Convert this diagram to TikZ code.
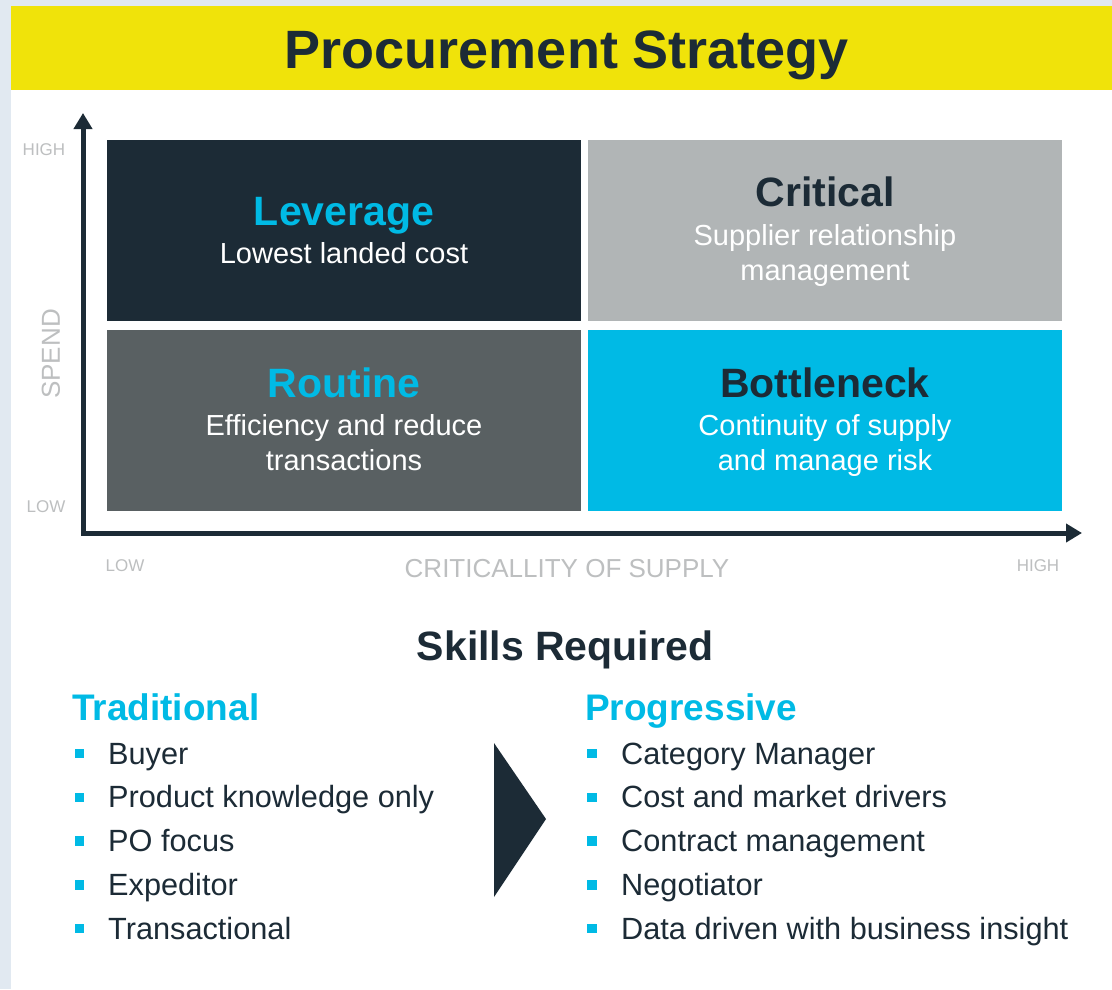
\documentclass[tikz,border=0pt]{standalone}
\usepackage{fontspec}
\setmainfont{Liberation Sans}
\usetikzlibrary{arrows.meta}
\definecolor{navyc}{HTML}{1C2B36}
\definecolor{yellowc}{HTML}{F0E30A}
\definecolor{greyc}{HTML}{B1B5B6}
\definecolor{slatec}{HTML}{596062}
\definecolor{cyanc}{HTML}{00BAE5}
\definecolor{labelc}{HTML}{BDBFC0}
\definecolor{edgec}{HTML}{E1E9F1}

\begin{document}
\begin{tikzpicture}[x=1pt,y=-1pt,
  quad/.style={rectangle, inner sep=0pt, minimum width=474pt, minimum height=181pt},
  head/.style={anchor=base, inner sep=0pt, font=\bfseries\fontsize{41}{49}\selectfont},
  sub/.style={anchor=base, inner sep=0pt, text=white, font=\fontsize{29}{35}\selectfont},
  axislbl/.style={anchor=base, inner sep=0pt, text=labelc, font=\fontsize{17}{20}\selectfont},
  axisname/.style={inner sep=0pt, text=labelc, font=\fontsize{26}{31}\selectfont},
  axis/.style={line width=5pt, draw=navyc, line join=miter,
    {Triangle[length=16pt,width=18pt]}-{Triangle[length=16pt,width=18pt]}},
  colhead/.style={anchor=base west, inner sep=0pt, text=cyanc, font=\bfseries\fontsize{37}{44}\selectfont},
  bulletsq/.style={rectangle, fill=cyanc, minimum size=9.5pt, inner sep=0pt},
  entry/.style={anchor=base west, inner sep=0pt, text=navyc, font=\fontsize{30.7}{37}\selectfont}]
  \useasboundingbox (0,0) rectangle (1112,989);
  \fill[edgec] (0,0) rectangle (1112,989);
  \fill[white] (11,6) rectangle (1112,989);

  % ============================================================
  %                       PARAMETERS
  % ============================================================
  \def\colL{344}      % centre of left column
  \def\colR{825}      % centre of right column
  \def\listTop{764}   % baseline of first bullet
  \def\listStep{43.75}

  % ============================================================
  %                       TITLE BAR
  % ============================================================
  \fill[yellowc] (11,6) rectangle (1112,90);
  \node[anchor=base, inner sep=0pt, text=navyc, font=\bfseries\fontsize{54}{64}\selectfont]
    (title) at (567,68) {Procurement Strategy};

  % ============================================================
  %                       MATRIX
  % ============================================================
  \node[quad, fill=navyc]  (leverage)   at (\colL,230.5) {};
  \node[quad, fill=greyc]  (critical)   at (\colR,230.5) {};
  \node[quad, fill=slatec] (routine)    at (\colL,420.5) {};
  \node[quad, fill=cyanc]  (bottleneck) at (\colR,420.5) {};

  \node[head, text=cyanc] (leverageT) at (\colL,225) {Leverage};
  \node[sub] (leverageS) at (\colL,263) {Lowest landed cost};

  \node[head, text=navyc] (criticalT) at (\colR,206) {Critical};
  \node[sub] (criticalS1) at (\colR,245) {Supplier relationship};
  \node[sub] (criticalS2) at (\colR,280) {management};

  \node[head, text=cyanc] (routineT) at (\colL,397) {Routine};
  \node[sub] (routineS1) at (\colL,435) {Efficiency and reduce};
  \node[sub] (routineS2) at (\colL,470) {transactions};

  \node[head, text=navyc] (bottleneckT) at (\colR,397) {Bottleneck};
  \node[sub] (bottleneckS1) at (\colR,435) {Continuity of supply};
  \node[sub] (bottleneckS2) at (\colR,470) {and manage risk};

  % ============================================================
  %                       AXES
  % ============================================================
  \coordinate (yTop) at (83,113);
  \coordinate (origin) at (83,533);
  \coordinate (xEnd) at (1082,533);
  \draw[axis] (yTop) -- (origin) -- (xEnd);

  \node[axislbl] (yHigh) at (44,155) {HIGH};
  \node[axislbl] (yLow)  at (46,512) {LOW};
  \node[axislbl] (xLow)  at (125,571) {LOW};
  \node[axislbl] (xHigh) at (1038,571) {HIGH};
  \node[axisname, rotate=90] (spend) at (51,354) {SPEND};
  \node[axisname, anchor=base] (supply) at (567,577) {CRITICALLITY OF SUPPLY};

  % ============================================================
  %                       SKILLS
  % ============================================================
  \node[anchor=base, inner sep=0pt, text=navyc, font=\bfseries\fontsize{41}{49}\selectfont]
    (skills) at (565,660) {Skills Required};

  \node[colhead] (traditional) at (72,720) {Traditional};
  \node[colhead] (progressive) at (585,720) {Progressive};

  \foreach \entryText [count=\i from 0] in {Buyer, Product knowledge only, PO focus, Expeditor, Transactional} {
    \pgfmathsetmacro{\yy}{\listTop + \i*\listStep}
    \node[bulletsq] (tb\i) at (79.5,\yy-10.5) {};
    \node[entry] (ti\i) at (108,\yy) {\entryText};
  }
  \foreach \entryText [count=\i from 0] in {Category Manager, Cost and market drivers, Contract management, Negotiator, Data driven with business insight} {
    \pgfmathsetmacro{\yy}{\listTop + \i*\listStep}
    \node[bulletsq] (pb\i) at (592,\yy-10.5) {};
    \node[entry] (pi\i) at (621,\yy) {\entryText};
  }

  % chevron between the two lists
  \fill[navyc] (494,743) -- (546,819) -- (494,897) -- cycle;

\end{tikzpicture}
\end{document}
